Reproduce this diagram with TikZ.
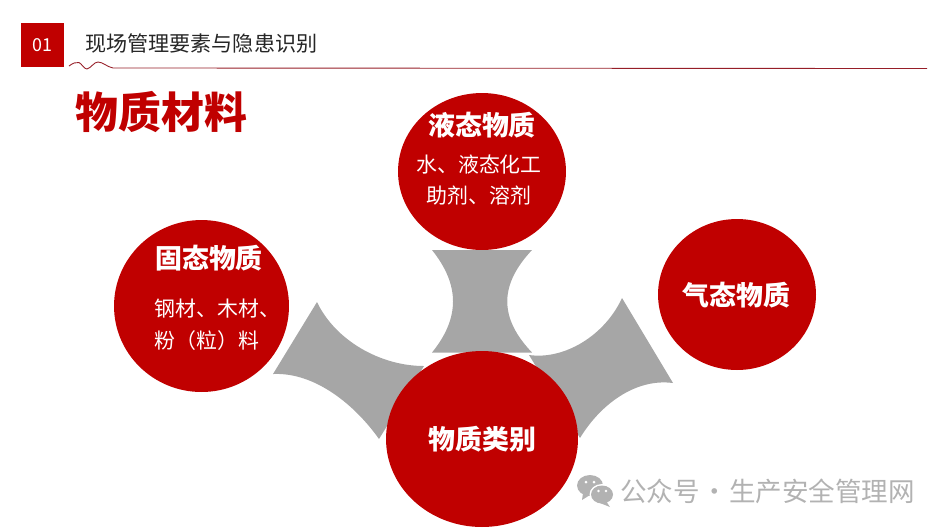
\documentclass[tikz,border=0pt]{standalone}
\usepackage{fontspec}
\setmainfont{Noto Sans CJK SC}
\newfontfamily\heavyfont{Noto Sans CJK SC Black}
\usepackage{xcolor}
\usetikzlibrary{shapes.geometric}
\definecolor{MainRed}{RGB}{192,0,0}
\definecolor{LineRed}{RGB}{150,30,40}
\definecolor{LinkGray}{RGB}{166,166,166}
\definecolor{MarkGray}{RGB}{178,178,178}
\definecolor{HeadBlack}{RGB}{38,38,38}
\begin{document}
\begin{tikzpicture}[x=0.02cm,y=-0.02cm,
  bubble/.style={ellipse,fill=MainRed,inner sep=0pt},
  head/.style={text=white,font=\fontsize{15.3pt}{18pt}\selectfont\bfseries,inner sep=0pt},
  sub/.style={text=white,font=\fontsize{11.9pt}{14pt}\selectfont,inner sep=0pt},
  link/.style={fill=LinkGray},
]
\useasboundingbox (0,0) rectangle (945,529);
% header
\node[fill=MainRed,minimum width=0.86cm,minimum height=0.88cm,inner sep=0pt,text=white,font=\fontsize{10.2pt}{12pt}\selectfont] (num) at (42.5,45) {01};
\node[anchor=west,inner sep=0pt,text=HeadBlack,font=\fontsize{12pt}{14pt}\selectfont] (header) at (85,43) {现场管理要素与隐患识别};
\coordinate (wave) at (69,66);
\coordinate (waveend) at (137,68);
\coordinate (rule) at (927,68.5);
\draw[LineRed,line width=0.5pt] (wave) .. controls (73,63) and (76,62) .. (79,62.5) .. controls (82,64) and (84,69) .. (87,69) .. controls (91,68) and (94,62) .. (98,62) .. controls (103,62) and (107,67) .. (113,68) -- (waveend) -- (rule);
\node[anchor=west,inner sep=0pt,text=MainRed,font=\fontsize{24.4pt}{28pt}\selectfont\heavyfont] (title) at (75.5,112) {物质材料};
% gray links
\fill[link] (432,250) -- (532,250) .. controls (499,285) and (499,318) .. (532,352.5) -- (432,352.5) .. controls (460,318) and (460,285) .. cycle;
\fill[link] (317,302) .. controls (335,340) and (380,366) .. (424,366) -- (379,439) .. controls (355,405) and (315,372) .. (273,374) -- cycle;
\fill[link] (622,298) .. controls (605,335) and (565,360) .. (529,355) -- (580,438) .. controls (600,405) and (635,378) .. (673,383) -- cycle;
% bubbles
\node[bubble,minimum width=3.84cm,minimum height=3.52cm] (base) at (482,439) {};
\node[bubble,minimum width=3.36cm,minimum height=3.14cm] (liquid) at (482,171.5) {};
\node[bubble,minimum width=3.5cm,minimum height=3.44cm] (solid) at (201.5,306) {};
\node[bubble,minimum width=3.16cm,minimum height=3.02cm] (gas) at (737,294.5) {};
\node[head] (basetext) at (482.5,439) {物质类别};
\node[head] (gastext) at (736.5,295) {气态物质};
\node[head] (liquidtext) at (482,125) {液态物质};
\node[sub] (liquidsub1) at (479,165) {水、液态化工};
\node[sub] (liquidsub2) at (479,196) {助剂、溶剂};
\node[head] (solidtext) at (209,258) {固态物质};
\node[sub,anchor=west] (solidsub1) at (154.5,309) {钢材、木材、};
\node[sub,anchor=west] (solidsub2) at (154.5,341) {粉（粒）料};
% watermark
\fill[MarkGray] (590,485.5) ellipse (13 and 10.5);
\fill[MarkGray] (583,493) -- (582,500) -- (590,495) -- cycle;
\fill[white] (602,494.5) ellipse (12.5 and 10.5);
\fill[MarkGray] (602,494.5) ellipse (11 and 9);
\fill[MarkGray] (606,501) -- (610,507) -- (600,503) -- cycle;
\fill[white] (586,482) circle (1.5) (594,482) circle (1.5) (598.5,491) circle (1.3) (606,491) circle (1.3);
\node[anchor=west,inner sep=0pt,text=MarkGray,font=\fontsize{15.1pt}{17pt}\selectfont] (brand) at (620,491) {公众号\hspace{0.05em}·\hspace{0.05em}生产安全管理网};
\end{tikzpicture}
\end{document}
